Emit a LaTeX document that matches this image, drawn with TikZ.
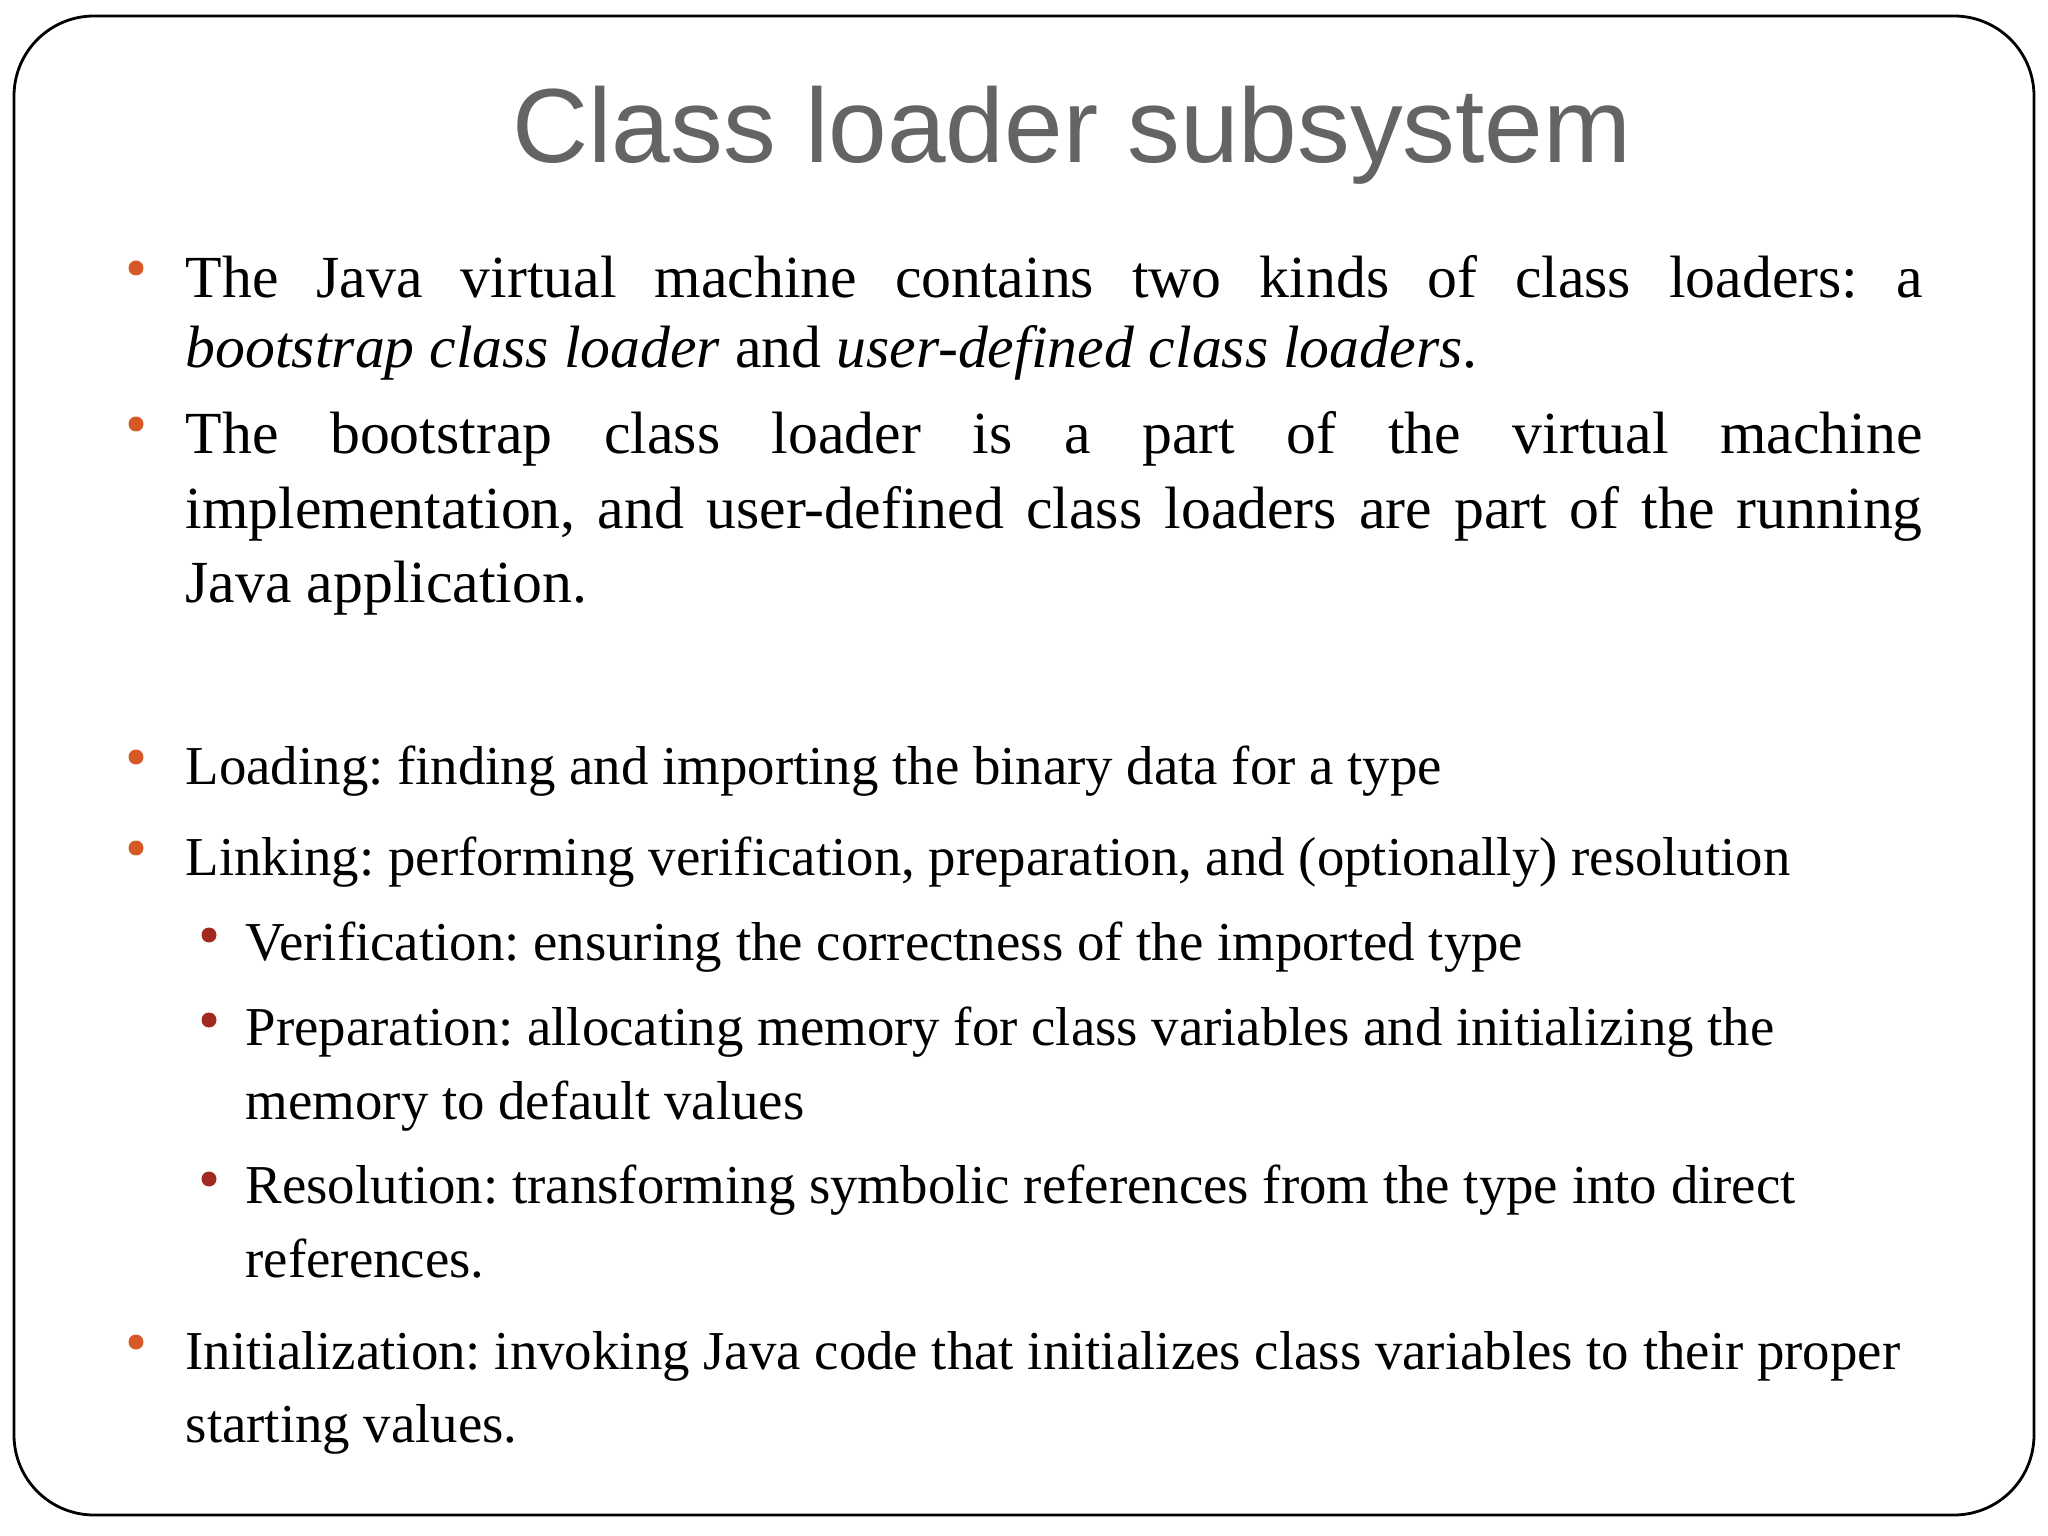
\documentclass[tikz,border=0pt]{standalone}
\usepackage{fontspec}
\setmainfont{Liberation Serif}
\newfontfamily\titlefont{Liberation Sans}
\definecolor{bulO}{RGB}{214,88,38}
\definecolor{bulR}{RGB}{160,42,32}
\definecolor{titleG}{RGB}{100,100,100}
\frenchspacing
\begin{document}
\begin{tikzpicture}[x=1cm,y=1cm,
  big/.style={anchor=base west,inner sep=0,font=\fontsize{17}{20}\selectfont},
  small/.style={anchor=base west,inner sep=0,font=\fontsize{15.6}{18}\selectfont},
  dotO/.style={circle,fill=bulO,inner sep=0,minimum size=0.15cm},
  dotR/.style={circle,fill=bulR,inner sep=0,minimum size=0.15cm}]
\useasboundingbox (0,0) rectangle (20.48,-15.36);
\draw[line width=0.8pt,rounded corners=0.8cm] (0.14,-0.16) rectangle (20.34,-15.15);
\node[anchor=base,inner sep=0,text=titleG,font=\titlefont\fontsize{30}{34}\selectfont] (title) at (10.72,-1.63) {Class loader subsystem};
% upper block
\node[dotO] (b1) at (1.36,-2.68) {};
\node[big] (l1) at (1.85,-2.98) {\makebox[17.37cm][s]{The Java virtual machine contains two kinds of class loaders: a}};
\node[big] (l2) at (1.85,-3.68) {\textit{bootstrap class loader} and \textit{user-defined class loaders}.};
\node[dotO] (b2) at (1.36,-4.24) {};
\node[big] (l3) at (1.85,-4.54) {\makebox[17.37cm][s]{The bootstrap class loader is a part of the virtual machine}};
\node[big] (l4) at (1.85,-5.29) {\makebox[17.37cm][s]{implementation, and user-defined class loaders are part of the running}};
\node[big] (l5) at (1.85,-6.03) {Java application.};
% lower block
\node[dotO] (b3) at (1.36,-7.57) {};
\node[small] (m1) at (1.85,-7.84) {Loading: finding and importing the binary data for a type};
\node[dotO] (b4) at (1.36,-8.48) {};
\node[small] (m2) at (1.85,-8.75) {Linking: performing verification, preparation, and (optionally) resolution};
\node[dotR] (s1) at (2.09,-9.35) {};
\node[small] (m3) at (2.45,-9.60) {Verification: ensuring the correctness of the imported type};
\node[dotR] (s2) at (2.09,-10.20) {};
\node[small] (m4) at (2.45,-10.45) {Preparation: allocating memory for class variables and initializing the};
\node[small] (m5) at (2.45,-11.19) {memory to default values};
\node[dotR] (s3) at (2.09,-11.79) {};
\node[small] (m6) at (2.45,-12.04) {Resolution: transforming symbolic references from the type into direct};
\node[small] (m7) at (2.45,-12.77) {references.};
\node[dotO] (b5) at (1.36,-13.42) {};
\node[small] (m8) at (1.85,-13.69) {Initialization: invoking Java code that initializes class variables to their proper};
\node[small] (m9) at (1.85,-14.42) {starting values.};
\end{tikzpicture}
\end{document}
